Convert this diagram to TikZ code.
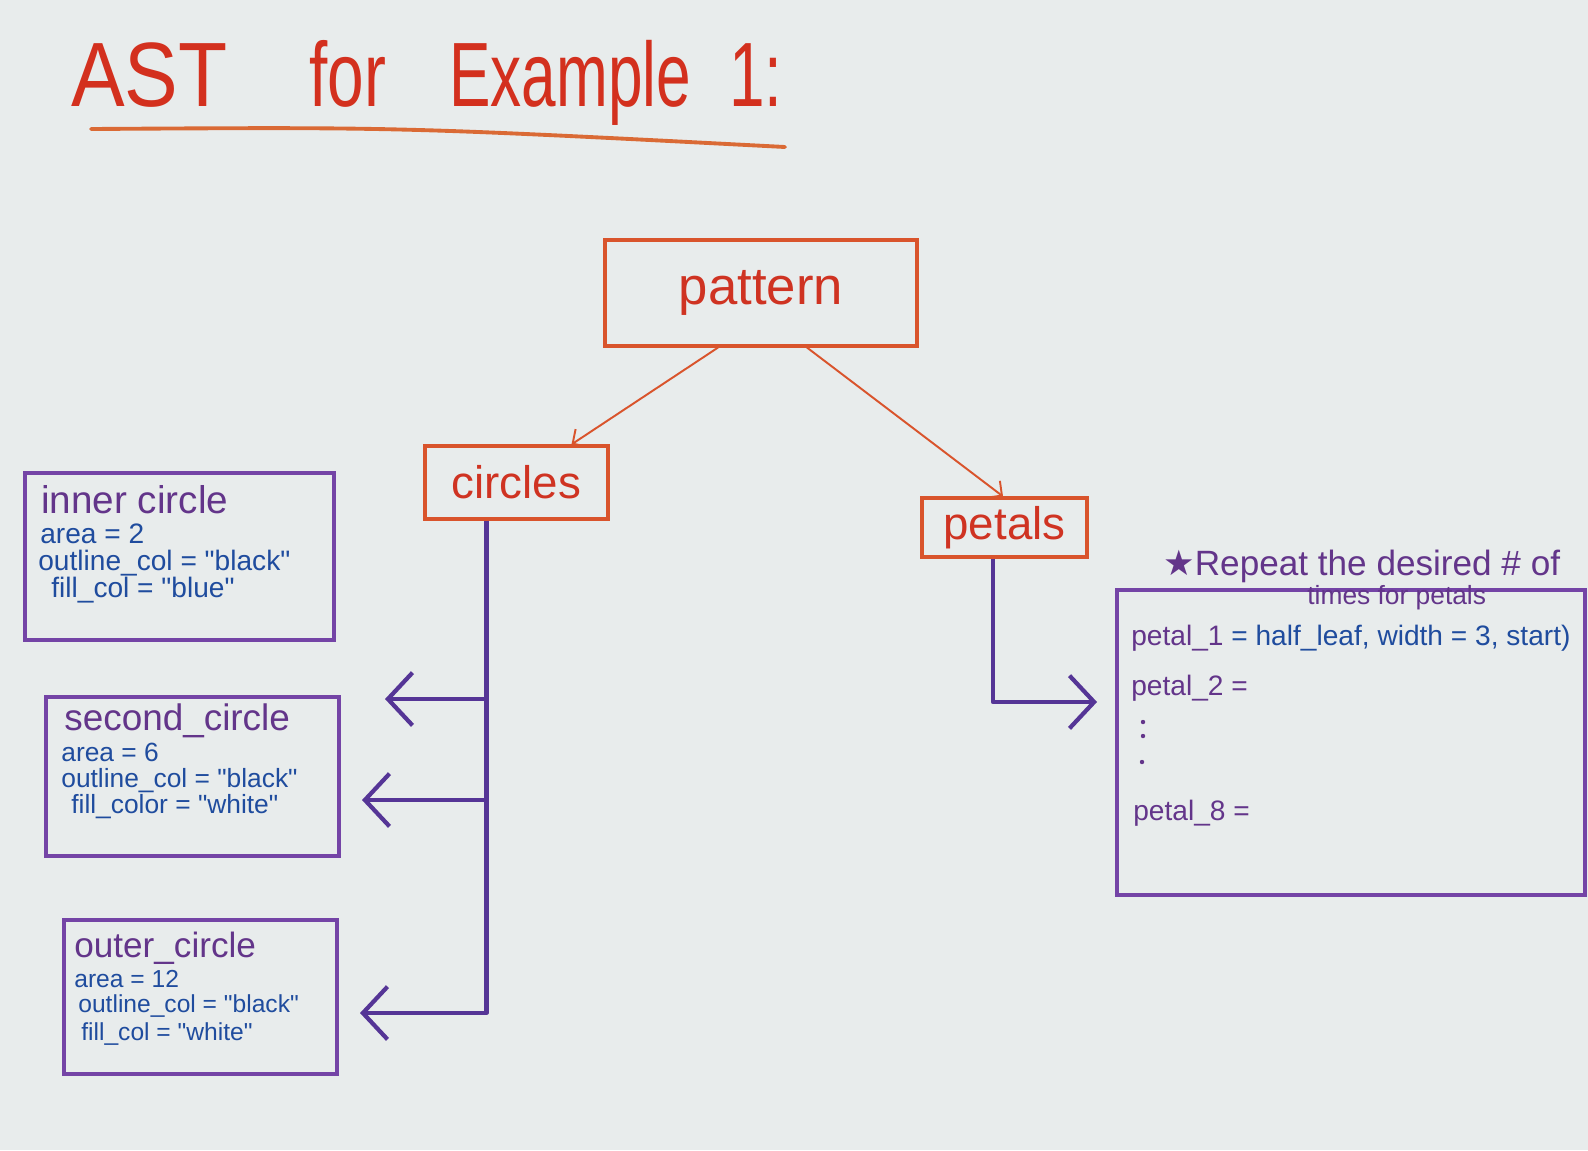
\documentclass[tikz,border=0pt]{standalone}
\usepackage{fontspec}
\setmainfont{Liberation Sans}[Ligatures=TeXOff]
\newfontfamily\symfont{DejaVu Sans}
\usepackage{graphicx}
\usetikzlibrary{arrows.meta,calc}
\newcommand{\dq}{\char34\relax}
\definecolor{board}{HTML}{E8ECEC}
\definecolor{ttl}{HTML}{D3301E}
\definecolor{ulin}{HTML}{DA6A35}
\definecolor{obox}{HTML}{D9542C}
\definecolor{otxt}{HTML}{CF3322}
\definecolor{pbox}{HTML}{7444A6}
\definecolor{pline}{HTML}{553596}
\definecolor{ptxt}{HTML}{63358A}
\definecolor{btxt}{HTML}{1F4C9E}
\begin{document}
\begin{tikzpicture}[x=0.02cm,y=-0.02cm,
  orangebox/.style={draw=obox, line width=1.8pt, text=otxt, inner sep=0pt},
  purplebox/.style={draw=pbox, line width=2.2pt, inner sep=0pt},
  lbl/.style={inner sep=0pt, anchor=base west},
  headtxt/.style={lbl, text=ptxt},
  bodytxt/.style={lbl, text=btxt},
  orangearrow/.style={draw=obox, line width=1.1pt, -{Straight Barb[length=6pt,width=12pt]}},
  purplearrow/.style={draw=pline, line width=2.4pt, line join=round, -{Straight Barb[length=14pt,width=30pt]}},
]
\useasboundingbox (0,0) rectangle (1588,1150);
\fill[board] (0,0) rectangle (1588,1150);

% title
\node[lbl, text=ttl, font=\fontsize{52}{60}\selectfont] (ast) at (71,106) {\scalebox{0.88}[1]{AST}};
\node[lbl, text=ttl, font=\fontsize{52}{60}\selectfont] (for) at (309,106) {\scalebox{0.72}[1]{for}};
\node[lbl, text=ttl, font=\fontsize{52}{60}\selectfont] (example) at (449,106) {\scalebox{0.68}[1]{Example}};
\node[lbl, text=ttl, font=\fontsize{52}{60}\selectfont] (one) at (729,106) {\scalebox{0.7}[1]{1:}};
\draw[ulin, line width=2.2pt, line cap=round] (91,129) .. controls (400,127) .. (785,147);

% top nodes
\node[orangebox, minimum width=6.24cm, minimum height=2.12cm, font=\fontsize{30}{36}\selectfont] (pattern) at (761,293) {pattern};
\node[orangebox, minimum width=3.66cm, minimum height=1.46cm, font=\fontsize{26}{30}\selectfont] (circles) at (516.5,482.5) {circles};
\node[orangebox, minimum width=3.3cm, minimum height=1.18cm, font=\fontsize{26}{30}\selectfont] (petals) at (1004.5,527.5) {petals};

\draw[orangearrow] ([xshift=-0.86cm]pattern.south) -- ([xshift=1.1cm]circles.north);
\draw[orangearrow] ([xshift=0.92cm]pattern.south) -- ([xshift=-0.03cm]petals.north);

% circle boxes
\node[purplebox, minimum width=6.18cm, minimum height=3.34cm] (inner) at (179.5,556.5) {};
\node[headtxt, font=\fontsize{22}{26}\selectfont] (innerhead) at (41,513) {inner circle};
\node[bodytxt, font=\fontsize{16}{20}\selectfont] (innerarea) at (40,543) {area = 2};
\node[bodytxt, font=\fontsize{16}{20}\selectfont] (innerout) at (38,570) {outline\_col = \dq black\dq};
\node[bodytxt, font=\fontsize{16}{20}\selectfont] (innerfill) at (51,597) {fill\_col = \dq blue\dq};

\node[purplebox, minimum width=5.86cm, minimum height=3.18cm] (second) at (192.5,776.5) {};
\node[headtxt, font=\fontsize{21}{25}\selectfont] (secondhead) at (64,730) {second\_circle};
\node[bodytxt, font=\fontsize{15}{18}\selectfont] (secondarea) at (61,761) {area = 6};
\node[bodytxt, font=\fontsize{15}{18}\selectfont] (secondout) at (61,787) {outline\_col = \dq black\dq};
\node[bodytxt, font=\fontsize{15}{18}\selectfont] (secondfill) at (71,813) {fill\_color = \dq white\dq};

\node[purplebox, minimum width=5.46cm, minimum height=3.08cm] (outer) at (200.5,997) {};
\node[headtxt, font=\fontsize{20}{24}\selectfont] (outerhead) at (74,957) {outer\_circle};
\node[bodytxt, font=\fontsize{14}{17}\selectfont] (outerarea) at (74,987) {area = 12};
\node[bodytxt, font=\fontsize{14}{17}\selectfont] (outerout) at (78,1012) {outline\_col = \dq black\dq};
\node[bodytxt, font=\fontsize{14}{17}\selectfont] (outerfill) at (81,1040) {fill\_col = \dq white\dq};

% trunk from circles
\coordinate (trunktop) at ([xshift=-0.6cm]circles.south);
\coordinate (t1) at (385,699);
\coordinate (t2) at (362,800);
\coordinate (t3) at (360,1013);
\draw[purplearrow] (trunktop) |- (t3);
\draw[purplearrow] (trunktop |- t1) -- (t1);
\draw[purplearrow] (trunktop |- t2) -- (t2);

% petals box
\node[purplebox, minimum width=9.36cm, minimum height=6.1cm] (petalbox) at (1351,742.5) {};
\coordinate (pt) at (1097,702);
\draw[purplearrow] ([xshift=-0.23cm]petals.south) |- (pt);

\node[lbl, text=ptxt, font=\fontsize{20}{24}\selectfont] (note1) at (1163,575) {{\symfont ★}Repeat the desired \# of};
\node[lbl, text=ptxt, font=\fontsize{15}{18}\selectfont] (note2) at (1307,604) {times for petals};

\node[bodytxt, font=\fontsize{16}{20}\selectfont] (petal1) at (1131,645) {{\color{ptxt}petal\_1} = half\_leaf, width = 3, start)};
\node[lbl, text=ptxt, font=\fontsize{16}{20}\selectfont] (petal2) at (1131,695) {petal\_2 =};
\fill[ptxt] (1143,722) circle (2.2);
\fill[ptxt] (1143,736) circle (2.2);
\fill[ptxt] (1142,762) circle (2.2);
\node[lbl, text=ptxt, font=\fontsize{16}{20}\selectfont] (petal8) at (1133,820) {petal\_8 =};
\end{tikzpicture}
\end{document}
